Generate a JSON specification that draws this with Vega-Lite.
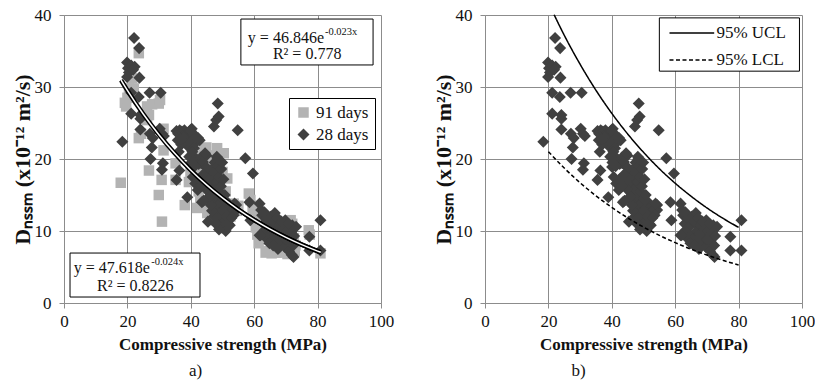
{
  "$schema": "https://vega.github.io/schema/vega-lite/v6.json",
  "background": "white",
  "padding": {"left": 11, "top": 6, "right": 5, "bottom": 2},
  "bounds": "flush",
  "spacing": 104,
  "config": {
    "font": "Liberation Serif",
    "view": {"stroke": null},
    "axis": {
      "labelFont": "Liberation Serif", "labelFontSize": 17, "labelColor": "#111", "labelFlush": false,
      "titleFont": "Liberation Serif", "titleFontSize": 17, "titleFontWeight": "bold", "titleColor": "#111",
      "gridColor": "#8c8c8c", "gridWidth": 1, "gridOpacity": 1,
      "domainColor": "#8c8c8c", "domainWidth": 1, "tickColor": "#8c8c8c", "tickSize": 5, "tickWidth": 1
    },
    "axisX": {"labelPadding": 5, "titlePadding": 7},
    "axisY": {"labelPadding": 8, "titlePadding": 0, "titleFontSize": 22},
    "title": {"font": "Liberation Serif", "fontSize": 17, "fontWeight": "normal", "color": "#111", "orient": "bottom", "offset": 11}
  },
  "datasets": {
    "pts": [
      {"strength": 17.9, "d": 16.7, "age": "91 days"}, {"strength": 19.2, "d": 27.8, "age": "91 days"}, {"strength": 19.6, "d": 27.3, "age": "91 days"},
      {"strength": 20.0, "d": 28.5, "age": "91 days"}, {"strength": 20.5, "d": 29.8, "age": "91 days"}, {"strength": 21.5, "d": 31.2, "age": "91 days"},
      {"strength": 22.0, "d": 29.8, "age": "91 days"}, {"strength": 23.6, "d": 34.7, "age": "91 days"}, {"strength": 23.6, "d": 22.9, "age": "91 days"},
      {"strength": 24.3, "d": 23.5, "age": "91 days"}, {"strength": 26.2, "d": 27.3, "age": "91 days"}, {"strength": 26.8, "d": 26.1, "age": "91 days"},
      {"strength": 26.2, "d": 25.4, "age": "91 days"}, {"strength": 27.8, "d": 27.6, "age": "91 days"}, {"strength": 26.8, "d": 18.4, "age": "91 days"},
      {"strength": 29.9, "d": 27.7, "age": "91 days"}, {"strength": 30.3, "d": 28.2, "age": "91 days"}, {"strength": 29.9, "d": 15.0, "age": "91 days"},
      {"strength": 30.8, "d": 17.1, "age": "91 days"}, {"strength": 30.9, "d": 11.3, "age": "91 days"}, {"strength": 31.4, "d": 21.2, "age": "91 days"},
      {"strength": 31.4, "d": 24.2, "age": "91 days"}, {"strength": 35.2, "d": 19.4, "age": "91 days"}, {"strength": 35.2, "d": 17.1, "age": "91 days"},
      {"strength": 38.1, "d": 13.6, "age": "91 days"}, {"strength": 39.4, "d": 16.8, "age": "91 days"}, {"strength": 39.9, "d": 18.0, "age": "91 days"},
      {"strength": 41.5, "d": 17.0, "age": "91 days"}, {"strength": 42.5, "d": 15.5, "age": "91 days"}, {"strength": 43.0, "d": 18.5, "age": "91 days"},
      {"strength": 43.5, "d": 20.2, "age": "91 days"}, {"strength": 44.0, "d": 21.5, "age": "91 days"}, {"strength": 44.9, "d": 21.6, "age": "91 days"},
      {"strength": 45.5, "d": 19.8, "age": "91 days"}, {"strength": 46.0, "d": 20.5, "age": "91 days"}, {"strength": 44.5, "d": 13.5, "age": "91 days"},
      {"strength": 45.2, "d": 12.5, "age": "91 days"}, {"strength": 45.8, "d": 16.0, "age": "91 days"}, {"strength": 46.5, "d": 11.5, "age": "91 days"},
      {"strength": 47.2, "d": 13.8, "age": "91 days"}, {"strength": 48.3, "d": 21.5, "age": "91 days"}, {"strength": 48.0, "d": 16.0, "age": "91 days"},
      {"strength": 49.0, "d": 14.0, "age": "91 days"}, {"strength": 50.4, "d": 20.8, "age": "91 days"}, {"strength": 50.0, "d": 18.2, "age": "91 days"},
      {"strength": 51.5, "d": 17.3, "age": "91 days"}, {"strength": 51.0, "d": 15.5, "age": "91 days"}, {"strength": 52.0, "d": 13.3, "age": "91 days"},
      {"strength": 52.5, "d": 12.0, "age": "91 days"}, {"strength": 53.5, "d": 13.8, "age": "91 days"}, {"strength": 54.5, "d": 12.8, "age": "91 days"},
      {"strength": 55.0, "d": 13.5, "age": "91 days"}, {"strength": 42.0, "d": 13.2, "age": "91 days"}, {"strength": 43.0, "d": 14.2, "age": "91 days"},
      {"strength": 58.3, "d": 15.2, "age": "91 days"}, {"strength": 58.8, "d": 14.3, "age": "91 days"}, {"strength": 59.5, "d": 12.8, "age": "91 days"},
      {"strength": 60.5, "d": 13.5, "age": "91 days"}, {"strength": 60.0, "d": 11.5, "age": "91 days"}, {"strength": 60.5, "d": 10.5, "age": "91 days"},
      {"strength": 61.0, "d": 9.5, "age": "91 days"}, {"strength": 61.4, "d": 8.3, "age": "91 days"}, {"strength": 62.5, "d": 8.8, "age": "91 days"},
      {"strength": 63.0, "d": 10.0, "age": "91 days"}, {"strength": 63.6, "d": 7.0, "age": "91 days"}, {"strength": 64.5, "d": 7.2, "age": "91 days"},
      {"strength": 65.0, "d": 9.8, "age": "91 days"}, {"strength": 65.5, "d": 6.9, "age": "91 days"}, {"strength": 66.0, "d": 10.5, "age": "91 days"},
      {"strength": 66.5, "d": 7.5, "age": "91 days"}, {"strength": 67.0, "d": 7.0, "age": "91 days"}, {"strength": 67.5, "d": 9.5, "age": "91 days"},
      {"strength": 68.0, "d": 7.0, "age": "91 days"}, {"strength": 68.5, "d": 8.5, "age": "91 days"}, {"strength": 69.5, "d": 7.3, "age": "91 days"},
      {"strength": 70.0, "d": 10.0, "age": "91 days"}, {"strength": 70.5, "d": 6.8, "age": "91 days"}, {"strength": 70.5, "d": 11.2, "age": "91 days"},
      {"strength": 71.5, "d": 11.5, "age": "91 days"}, {"strength": 72.0, "d": 11.0, "age": "91 days"}, {"strength": 72.5, "d": 9.0, "age": "91 days"},
      {"strength": 72.8, "d": 7.2, "age": "91 days"}, {"strength": 73.0, "d": 8.0, "age": "91 days"}, {"strength": 64.0, "d": 11.5, "age": "91 days"},
      {"strength": 61.8, "d": 11.0, "age": "91 days"}, {"strength": 77.2, "d": 10.1, "age": "91 days"}, {"strength": 77.5, "d": 9.5, "age": "91 days"},
      {"strength": 80.9, "d": 6.9, "age": "91 days"},
      {"strength": 18.4, "d": 22.4, "age": "28 days"}, {"strength": 19.9, "d": 33.4, "age": "28 days"}, {"strength": 20.2, "d": 32.6, "age": "28 days"},
      {"strength": 19.9, "d": 31.4, "age": "28 days"}, {"strength": 21.2, "d": 33.0, "age": "28 days"}, {"strength": 22.3, "d": 32.8, "age": "28 days"},
      {"strength": 20.5, "d": 32.0, "age": "28 days"}, {"strength": 21.8, "d": 32.4, "age": "28 days"},
      {"strength": 22.1, "d": 36.8, "age": "28 days"}, {"strength": 23.7, "d": 35.4, "age": "28 days"}, {"strength": 23.8, "d": 31.3, "age": "28 days"},
      {"strength": 23.6, "d": 28.6, "age": "28 days"}, {"strength": 21.2, "d": 29.2, "age": "28 days"}, {"strength": 21.2, "d": 26.3, "age": "28 days"},
      {"strength": 24.1, "d": 26.1, "age": "28 days"}, {"strength": 24.1, "d": 25.6, "age": "28 days"}, {"strength": 24.1, "d": 24.1, "age": "28 days"},
      {"strength": 27.0, "d": 29.2, "age": "28 days"}, {"strength": 30.5, "d": 29.2, "age": "28 days"}, {"strength": 27.1, "d": 23.5, "age": "28 days"},
      {"strength": 28.0, "d": 22.9, "age": "28 days"}, {"strength": 27.7, "d": 21.6, "age": "28 days"}, {"strength": 27.3, "d": 20.0, "age": "28 days"},
      {"strength": 30.2, "d": 24.2, "age": "28 days"}, {"strength": 30.9, "d": 23.5, "age": "28 days"}, {"strength": 31.5, "d": 23.2, "age": "28 days"},
      {"strength": 31.2, "d": 19.4, "age": "28 days"}, {"strength": 30.9, "d": 18.5, "age": "28 days"}, {"strength": 35.5, "d": 23.9, "age": "28 days"},
      {"strength": 35.9, "d": 22.6, "age": "28 days"}, {"strength": 35.5, "d": 17.1, "age": "28 days"}, {"strength": 36.4, "d": 18.4, "age": "28 days"},
      {"strength": 36.2, "d": 21.0, "age": "28 days"}, {"strength": 38.9, "d": 14.7, "age": "28 days"}, {"strength": 39.9, "d": 24.0, "age": "28 days"},
      {"strength": 40.1, "d": 20.5, "age": "28 days"}, {"strength": 40.1, "d": 18.9, "age": "28 days"}, {"strength": 40.6, "d": 17.5, "age": "28 days"},
      {"strength": 41.4, "d": 16.6, "age": "28 days"}, {"strength": 42.2, "d": 15.7, "age": "28 days"}, {"strength": 42.8, "d": 22.6, "age": "28 days"},
      {"strength": 43.3, "d": 19.4, "age": "28 days"}, {"strength": 43.5, "d": 14.0, "age": "28 days"}, {"strength": 45.4, "d": 11.3, "age": "28 days"},
      {"strength": 44.9, "d": 20.5, "age": "28 days"}, {"strength": 47.3, "d": 24.5, "age": "28 days"}, {"strength": 48.0, "d": 25.4, "age": "28 days"},
      {"strength": 48.5, "d": 27.7, "age": "28 days"}, {"strength": 48.8, "d": 25.9, "age": "28 days"}, {"strength": 54.8, "d": 24.0, "age": "28 days"},
      {"strength": 57.2, "d": 20.1, "age": "28 days"}, {"strength": 59.6, "d": 18.0, "age": "28 days"}, {"strength": 58.5, "d": 14.0, "age": "28 days"},
      {"strength": 58.8, "d": 11.5, "age": "28 days"}, {"strength": 61.7, "d": 13.8, "age": "28 days"}, {"strength": 62.2, "d": 12.9, "age": "28 days"},
      {"strength": 61.7, "d": 9.4, "age": "28 days"}, {"strength": 73.2, "d": 10.6, "age": "28 days"}, {"strength": 77.4, "d": 9.2, "age": "28 days"},
      {"strength": 77.4, "d": 7.3, "age": "28 days"}, {"strength": 80.9, "d": 11.5, "age": "28 days"}, {"strength": 80.9, "d": 7.3, "age": "28 days"},
      {"strength": 72.4, "d": 6.4, "age": "28 days"}, {"strength": 54.3, "d": 13.6, "age": "28 days"}, {"strength": 54.3, "d": 12.9, "age": "28 days"},
      {"strength": 36.0, "d": 23.5, "age": "28 days"}, {"strength": 36.5, "d": 24.0, "age": "28 days"}, {"strength": 37.2, "d": 23.8, "age": "28 days"},
      {"strength": 37.8, "d": 23.2, "age": "28 days"}, {"strength": 38.0, "d": 24.0, "age": "28 days"}, {"strength": 38.6, "d": 23.6, "age": "28 days"},
      {"strength": 39.2, "d": 22.8, "age": "28 days"}, {"strength": 39.8, "d": 23.9, "age": "28 days"}, {"strength": 40.3, "d": 24.2, "age": "28 days"},
      {"strength": 40.8, "d": 23.5, "age": "28 days"}, {"strength": 41.3, "d": 23.0, "age": "28 days"}, {"strength": 41.8, "d": 22.4, "age": "28 days"},
      {"strength": 42.3, "d": 22.9, "age": "28 days"}, {"strength": 39.0, "d": 21.8, "age": "28 days"}, {"strength": 38.3, "d": 22.3, "age": "28 days"},
      {"strength": 37.0, "d": 22.0, "age": "28 days"}, {"strength": 40.0, "d": 22.2, "age": "28 days"}, {"strength": 41.0, "d": 21.5, "age": "28 days"},
      {"strength": 40.5, "d": 21.0, "age": "28 days"}, {"strength": 39.5, "d": 20.3, "age": "28 days"}, {"strength": 41.8, "d": 20.0, "age": "28 days"},
      {"strength": 42.5, "d": 19.3, "age": "28 days"}, {"strength": 43.2, "d": 20.2, "age": "28 days"}, {"strength": 43.8, "d": 19.6, "age": "28 days"},
      {"strength": 44.5, "d": 20.8, "age": "28 days"}, {"strength": 41.2, "d": 19.0, "age": "28 days"}, {"strength": 40.2, "d": 19.5, "age": "28 days"},
      {"strength": 37.5, "d": 23.0, "age": "28 days"}, {"strength": 36.8, "d": 22.8, "age": "28 days"},
      {"strength": 45.5, "d": 17.8, "age": "28 days"}, {"strength": 46.0, "d": 16.5, "age": "28 days"}, {"strength": 46.2, "d": 15.2, "age": "28 days"},
      {"strength": 46.5, "d": 18.5, "age": "28 days"}, {"strength": 46.8, "d": 14.0, "age": "28 days"}, {"strength": 47.0, "d": 17.0, "age": "28 days"},
      {"strength": 47.2, "d": 15.8, "age": "28 days"}, {"strength": 47.5, "d": 19.5, "age": "28 days"}, {"strength": 47.6, "d": 13.2, "age": "28 days"},
      {"strength": 47.8, "d": 18.0, "age": "28 days"}, {"strength": 48.0, "d": 16.8, "age": "28 days"}, {"strength": 48.2, "d": 20.3, "age": "28 days"},
      {"strength": 48.3, "d": 14.8, "age": "28 days"}, {"strength": 48.5, "d": 12.5, "age": "28 days"}, {"strength": 48.6, "d": 19.0, "age": "28 days"},
      {"strength": 48.8, "d": 17.5, "age": "28 days"}, {"strength": 49.0, "d": 15.5, "age": "28 days"}, {"strength": 49.1, "d": 11.8, "age": "28 days"},
      {"strength": 49.3, "d": 13.8, "age": "28 days"}, {"strength": 49.5, "d": 16.2, "age": "28 days"}, {"strength": 49.6, "d": 18.6, "age": "28 days"},
      {"strength": 49.8, "d": 10.5, "age": "28 days"}, {"strength": 50.0, "d": 12.8, "age": "28 days"}, {"strength": 50.2, "d": 14.5, "age": "28 days"},
      {"strength": 50.3, "d": 17.2, "age": "28 days"}, {"strength": 50.5, "d": 11.2, "age": "28 days"}, {"strength": 50.7, "d": 15.0, "age": "28 days"},
      {"strength": 50.9, "d": 13.3, "age": "28 days"}, {"strength": 51.0, "d": 10.0, "age": "28 days"}, {"strength": 51.2, "d": 12.0, "age": "28 days"},
      {"strength": 51.5, "d": 14.0, "age": "28 days"}, {"strength": 51.8, "d": 11.0, "age": "28 days"}, {"strength": 52.0, "d": 12.8, "age": "28 days"},
      {"strength": 52.3, "d": 10.8, "age": "28 days"}, {"strength": 52.5, "d": 13.5, "age": "28 days"}, {"strength": 47.3, "d": 12.0, "age": "28 days"},
      {"strength": 46.7, "d": 12.8, "age": "28 days"}, {"strength": 48.9, "d": 10.2, "age": "28 days"}, {"strength": 49.9, "d": 19.5, "age": "28 days"},
      {"strength": 48.4, "d": 20.0, "age": "28 days"}, {"strength": 47.9, "d": 11.0, "age": "28 days"}, {"strength": 46.3, "d": 13.6, "age": "28 days"},
      {"strength": 45.8, "d": 14.8, "age": "28 days"}, {"strength": 44.8, "d": 15.8, "age": "28 days"}, {"strength": 44.3, "d": 17.0, "age": "28 days"},
      {"strength": 45.0, "d": 18.8, "age": "28 days"}, {"strength": 43.8, "d": 17.8, "age": "28 days"}, {"strength": 43.2, "d": 16.3, "age": "28 days"},
      {"strength": 42.5, "d": 17.2, "age": "28 days"}, {"strength": 44.0, "d": 14.2, "age": "28 days"}, {"strength": 53.2, "d": 13.0, "age": "28 days"},
      {"strength": 53.8, "d": 13.8, "age": "28 days"}, {"strength": 53.5, "d": 12.2, "age": "28 days"}, {"strength": 52.8, "d": 11.8, "age": "28 days"},
      {"strength": 62.5, "d": 12.2, "age": "28 days"}, {"strength": 63.0, "d": 11.0, "age": "28 days"}, {"strength": 63.5, "d": 10.2, "age": "28 days"},
      {"strength": 64.0, "d": 11.8, "age": "28 days"}, {"strength": 64.5, "d": 9.5, "age": "28 days"}, {"strength": 65.0, "d": 10.8, "age": "28 days"},
      {"strength": 65.3, "d": 12.0, "age": "28 days"}, {"strength": 65.8, "d": 9.0, "age": "28 days"}, {"strength": 66.2, "d": 11.2, "age": "28 days"},
      {"strength": 66.5, "d": 12.5, "age": "28 days"}, {"strength": 66.8, "d": 10.0, "age": "28 days"}, {"strength": 67.0, "d": 8.8, "age": "28 days"},
      {"strength": 67.3, "d": 11.8, "age": "28 days"}, {"strength": 67.8, "d": 9.6, "age": "28 days"}, {"strength": 68.0, "d": 10.8, "age": "28 days"},
      {"strength": 68.3, "d": 8.2, "age": "28 days"}, {"strength": 68.6, "d": 11.3, "age": "28 days"}, {"strength": 69.0, "d": 9.2, "age": "28 days"},
      {"strength": 69.3, "d": 10.3, "age": "28 days"}, {"strength": 69.6, "d": 7.8, "age": "28 days"}, {"strength": 70.0, "d": 8.8, "age": "28 days"},
      {"strength": 70.3, "d": 10.0, "age": "28 days"}, {"strength": 70.6, "d": 9.0, "age": "28 days"}, {"strength": 71.0, "d": 7.2, "age": "28 days"},
      {"strength": 71.3, "d": 8.4, "age": "28 days"}, {"strength": 71.6, "d": 9.8, "age": "28 days"}, {"strength": 72.0, "d": 10.8, "age": "28 days"},
      {"strength": 72.3, "d": 8.0, "age": "28 days"}, {"strength": 72.6, "d": 9.3, "age": "28 days"}, {"strength": 71.8, "d": 6.7, "age": "28 days"},
      {"strength": 63.8, "d": 9.0, "age": "28 days"}, {"strength": 64.8, "d": 8.3, "age": "28 days"}, {"strength": 66.0, "d": 8.0, "age": "28 days"},
      {"strength": 67.5, "d": 7.5, "age": "28 days"}, {"strength": 62.0, "d": 9.4, "age": "28 days"}, {"strength": 63.2, "d": 12.6, "age": "28 days"},
      {"strength": 69.8, "d": 11.5, "age": "28 days"}, {"strength": 70.8, "d": 11.0, "age": "28 days"}
    ],
    "trend": [
      {"strength": 18, "d": 30.97, "fit": "28 days"}, {"strength": 20, "d": 29.57, "fit": "28 days"}, {"strength": 25, "d": 26.36, "fit": "28 days"},
      {"strength": 30, "d": 23.50, "fit": "28 days"}, {"strength": 35, "d": 20.94, "fit": "28 days"}, {"strength": 40, "d": 18.67, "fit": "28 days"},
      {"strength": 45, "d": 16.64, "fit": "28 days"}, {"strength": 50, "d": 14.83, "fit": "28 days"}, {"strength": 55, "d": 13.22, "fit": "28 days"},
      {"strength": 60, "d": 11.79, "fit": "28 days"}, {"strength": 65, "d": 10.51, "fit": "28 days"}, {"strength": 70, "d": 9.36, "fit": "28 days"},
      {"strength": 75, "d": 8.35, "fit": "28 days"}, {"strength": 80, "d": 7.44, "fit": "28 days"}, {"strength": 81, "d": 7.27, "fit": "28 days"},
      {"strength": 18, "d": 30.91, "fit": "91 days"}, {"strength": 20, "d": 29.47, "fit": "91 days"}, {"strength": 25, "d": 26.13, "fit": "91 days"},
      {"strength": 30, "d": 23.18, "fit": "91 days"}, {"strength": 35, "d": 20.56, "fit": "91 days"}, {"strength": 40, "d": 18.23, "fit": "91 days"},
      {"strength": 45, "d": 16.17, "fit": "91 days"}, {"strength": 50, "d": 14.34, "fit": "91 days"}, {"strength": 55, "d": 12.72, "fit": "91 days"},
      {"strength": 60, "d": 11.28, "fit": "91 days"}, {"strength": 65, "d": 10.01, "fit": "91 days"}, {"strength": 70, "d": 8.87, "fit": "91 days"},
      {"strength": 75, "d": 7.87, "fit": "91 days"}, {"strength": 80, "d": 6.98, "fit": "91 days"}, {"strength": 81, "d": 6.81, "fit": "91 days"}
    ],
    "trendmid": [
      {"strength": 18, "d": 30.94}, {"strength": 20, "d": 29.52}, {"strength": 25, "d": 26.25}, {"strength": 30, "d": 23.34},
      {"strength": 35, "d": 20.75}, {"strength": 40, "d": 18.45}, {"strength": 45, "d": 16.41}, {"strength": 50, "d": 14.59},
      {"strength": 55, "d": 12.97}, {"strength": 60, "d": 11.54}, {"strength": 65, "d": 10.26}, {"strength": 70, "d": 9.12},
      {"strength": 75, "d": 8.11}, {"strength": 80, "d": 7.21}, {"strength": 81, "d": 7.04}
    ],
    "limits": [
      {"strength": 21.8, "d": 40.04, "limit": "95% UCL"}, {"strength": 25, "d": 37.19, "limit": "95% UCL"}, {"strength": 30, "d": 33.16, "limit": "95% UCL"},
      {"strength": 35, "d": 29.55, "limit": "95% UCL"}, {"strength": 40, "d": 26.34, "limit": "95% UCL"}, {"strength": 45, "d": 23.48, "limit": "95% UCL"},
      {"strength": 50, "d": 20.93, "limit": "95% UCL"}, {"strength": 55, "d": 18.65, "limit": "95% UCL"}, {"strength": 60, "d": 16.63, "limit": "95% UCL"},
      {"strength": 65, "d": 14.83, "limit": "95% UCL"}, {"strength": 70, "d": 13.21, "limit": "95% UCL"}, {"strength": 75, "d": 11.78, "limit": "95% UCL"},
      {"strength": 80, "d": 10.50, "limit": "95% UCL"},
      {"strength": 20, "d": 21.02, "limit": "95% LCL"}, {"strength": 25, "d": 18.74, "limit": "95% LCL"}, {"strength": 30, "d": 16.70, "limit": "95% LCL"},
      {"strength": 35, "d": 14.89, "limit": "95% LCL"}, {"strength": 40, "d": 13.27, "limit": "95% LCL"}, {"strength": 45, "d": 11.83, "limit": "95% LCL"},
      {"strength": 50, "d": 10.54, "limit": "95% LCL"}, {"strength": 55, "d": 9.40, "limit": "95% LCL"}, {"strength": 60, "d": 8.38, "limit": "95% LCL"},
      {"strength": 65, "d": 7.47, "limit": "95% LCL"}, {"strength": 70, "d": 6.66, "limit": "95% LCL"}, {"strength": 75, "d": 5.93, "limit": "95% LCL"},
      {"strength": 80, "d": 5.29, "limit": "95% LCL"}
    ]
  },
  "hconcat": [
    {
      "width": 317,
      "height": 288,
      "title": {"text": "a)", "dx": -27},
      "layer": [
        {
          "data": {"name": "pts"},
          "mark": {"type": "point", "filled": true, "opacity": 1, "strokeWidth": 0},
          "encoding": {
            "x": {"field": "strength", "type": "quantitative", "scale": {"domain": [0, 100], "nice": false},
                  "axis": {"values": [0, 20, 40, 60, 80, 100]}, "title": "Compressive strength (MPa)"},
            "y": {"field": "d", "type": "quantitative", "scale": {"domain": [0, 40], "nice": false},
                  "axis": {"values": [0, 5, 10, 15, 20, 25, 30, 35, 40]}, "title": "Dₙₛₛₘ (x10⁻¹² m²/s)"},
            "color": {"field": "age", "type": "nominal",
                      "scale": {"domain": ["91 days", "28 days"], "range": ["#b3b3b3", "#404040"]},
                      "legend": {"title": null, "orient": "none", "legendX": 225, "legendY": 83, "padding": 6,
                                 "strokeColor": "black", "fillColor": "white", "labelFont": "Liberation Serif",
                                 "labelFontSize": 17, "labelColor": "#111", "rowPadding": 4, "labelOffset": 4,
                                 "symbolSize": 120, "symbolStrokeWidth": 0, "cornerRadius": 0}},
            "shape": {"field": "age", "type": "nominal",
                      "scale": {"domain": ["91 days", "28 days"], "range": ["square", "diamond"]}},
            "size": {"field": "age", "type": "ordinal",
                     "scale": {"domain": ["91 days", "28 days"], "range": [110, 145]}, "legend": null}
          }
        },
        {
          "data": {"name": "trendmid"},
          "mark": {"type": "line", "color": "black", "strokeWidth": 4.5, "interpolate": "monotone"},
          "encoding": {
            "x": {"field": "strength", "type": "quantitative", "title": "Compressive strength (MPa)"},
            "y": {"field": "d", "type": "quantitative", "title": "Dₙₛₛₘ (x10⁻¹² m²/s)"}
          }
        },
        {
          "data": {"name": "trend"},
          "mark": {"type": "line", "color": "black", "strokeWidth": 1.4, "interpolate": "monotone"},
          "encoding": {
            "x": {"field": "strength", "type": "quantitative", "title": "Compressive strength (MPa)"},
            "y": {"field": "d", "type": "quantitative", "title": "Dₙₛₛₘ (x10⁻¹² m²/s)"},
            "detail": {"field": "fit", "type": "nominal"}
          }
        },
        {
          "data": {"name": "trendmid"},
          "mark": {"type": "line", "color": "white", "strokeWidth": 1.5, "interpolate": "monotone"},
          "encoding": {
            "x": {"field": "strength", "type": "quantitative", "title": "Compressive strength (MPa)"},
            "y": {"field": "d", "type": "quantitative", "title": "Dₙₛₛₘ (x10⁻¹² m²/s)"}
          }
        },
        {
          "data": {"values": [{"label": "28 days fit"}]},
          "mark": {"type": "rect", "fill": "white", "stroke": "black", "strokeWidth": 1},
          "encoding": {
            "x": {"datum": 55.8, "type": "quantitative", "title": "Compressive strength (MPa)"}, "x2": {"datum": 97.5},
            "y": {"datum": 39.44, "type": "quantitative", "title": "Dₙₛₛₘ (x10⁻¹² m²/s)"}, "y2": {"datum": 33.06}
          }
        },
        {
          "data": {"values": [{"label": "y = 46.846e"}]},
          "mark": {"type": "text", "align": "left", "baseline": "alphabetic", "fontSize": 16, "font": "Liberation Serif", "color": "#111"},
          "encoding": {
            "x": {"datum": 58.0, "type": "quantitative", "title": "Compressive strength (MPa)"},
            "y": {"datum": 36.15, "type": "quantitative", "title": "Dₙₛₛₘ (x10⁻¹² m²/s)"},
            "text": {"field": "label"}
          }
        },
        {
          "data": {"values": [{"label": "-0.023x"}]},
          "mark": {"type": "text", "align": "left", "baseline": "alphabetic", "fontSize": 10.5, "font": "Liberation Serif", "color": "#111"},
          "encoding": {
            "x": {"datum": 82.3, "type": "quantitative", "title": "Compressive strength (MPa)"},
            "y": {"datum": 37.2, "type": "quantitative", "title": "Dₙₛₛₘ (x10⁻¹² m²/s)"},
            "text": {"field": "label"}
          }
        },
        {
          "data": {"values": [{"label": "R² = 0.778"}]},
          "mark": {"type": "text", "align": "center", "baseline": "alphabetic", "fontSize": 16, "font": "Liberation Serif", "color": "#111"},
          "encoding": {
            "x": {"datum": 76.7, "type": "quantitative", "title": "Compressive strength (MPa)"},
            "y": {"datum": 33.85, "type": "quantitative", "title": "Dₙₛₛₘ (x10⁻¹² m²/s)"},
            "text": {"field": "label"}
          }
        },
        {
          "data": {"values": [{"label": "91 days fit"}]},
          "mark": {"type": "rect", "fill": "white", "stroke": "black", "strokeWidth": 1},
          "encoding": {
            "x": {"datum": 1.9, "type": "quantitative", "title": "Compressive strength (MPa)"}, "x2": {"datum": 42.9},
            "y": {"datum": 6.94, "type": "quantitative", "title": "Dₙₛₛₘ (x10⁻¹² m²/s)"}, "y2": {"datum": 0.83}
          }
        },
        {
          "data": {"values": [{"label": "y = 47.618e"}]},
          "mark": {"type": "text", "align": "left", "baseline": "alphabetic", "fontSize": 16, "font": "Liberation Serif", "color": "#111"},
          "encoding": {
            "x": {"datum": 3.05, "type": "quantitative", "title": "Compressive strength (MPa)"},
            "y": {"datum": 4.21, "type": "quantitative", "title": "Dₙₛₛₘ (x10⁻¹² m²/s)"},
            "text": {"field": "label"}
          }
        },
        {
          "data": {"values": [{"label": "-0.024x"}]},
          "mark": {"type": "text", "align": "left", "baseline": "alphabetic", "fontSize": 10.5, "font": "Liberation Serif", "color": "#111"},
          "encoding": {
            "x": {"datum": 27.5, "type": "quantitative", "title": "Compressive strength (MPa)"},
            "y": {"datum": 5.28, "type": "quantitative", "title": "Dₙₛₛₘ (x10⁻¹² m²/s)"},
            "text": {"field": "label"}
          }
        },
        {
          "data": {"values": [{"label": "R² = 0.8226"}]},
          "mark": {"type": "text", "align": "center", "baseline": "alphabetic", "fontSize": 16, "font": "Liberation Serif", "color": "#111"},
          "encoding": {
            "x": {"datum": 22.5, "type": "quantitative", "title": "Compressive strength (MPa)"},
            "y": {"datum": 1.71, "type": "quantitative", "title": "Dₙₛₛₘ (x10⁻¹² m²/s)"},
            "text": {"field": "label"}
          }
        }
      ]
    },
    {
      "width": 317,
      "height": 288,
      "title": {"text": "b)", "dx": -65},
      "layer": [
        {
          "data": {"name": "pts"},
          "transform": [{"filter": "datum.age === '28 days'"}],
          "mark": {"type": "point", "filled": true, "opacity": 1, "strokeWidth": 0, "shape": "diamond", "size": 145, "color": "#404040"},
          "encoding": {
            "x": {"field": "strength", "type": "quantitative", "scale": {"domain": [0, 100], "nice": false},
                  "axis": {"values": [0, 20, 40, 60, 80, 100]}, "title": "Compressive strength (MPa)"},
            "y": {"field": "d", "type": "quantitative", "scale": {"domain": [0, 40], "nice": false},
                  "axis": {"values": [0, 5, 10, 15, 20, 25, 30, 35, 40]}, "title": "Dₙₛₛₘ (x10⁻¹² m²/s)"}
          }
        },
        {
          "data": {"name": "limits"},
          "mark": {"type": "line", "color": "black", "strokeWidth": 1.5, "interpolate": "monotone"},
          "encoding": {
            "x": {"field": "strength", "type": "quantitative", "title": "Compressive strength (MPa)"},
            "y": {"field": "d", "type": "quantitative", "title": "Dₙₛₛₘ (x10⁻¹² m²/s)"},
            "strokeDash": {"field": "limit", "type": "nominal",
                           "scale": {"domain": ["95% UCL", "95% LCL"], "range": [[1, 0], [4, 2.5]]}, "legend": null}
          }
        },
        {
          "data": {"values": [{"label": "legend"}]},
          "mark": {"type": "rect", "fill": "white", "stroke": "black", "strokeWidth": 1},
          "encoding": {
            "x": {"datum": 55.0, "type": "quantitative", "title": "Compressive strength (MPa)"}, "x2": {"datum": 99.2},
            "y": {"datum": 39.6, "type": "quantitative", "title": "Dₙₛₛₘ (x10⁻¹² m²/s)"}, "y2": {"datum": 32.2}
          }
        },
        {
          "data": {"values": [{"label": "95% UCL"}]},
          "mark": {"type": "rule", "color": "black", "strokeWidth": 1.5},
          "encoding": {
            "x": {"datum": 58.2, "type": "quantitative", "title": "Compressive strength (MPa)"}, "x2": {"datum": 72.3},
            "y": {"datum": 37.5, "type": "quantitative", "title": "Dₙₛₛₘ (x10⁻¹² m²/s)"}
          }
        },
        {
          "data": {"values": [{"label": "95% LCL"}]},
          "mark": {"type": "rule", "color": "black", "strokeWidth": 1.5, "strokeDash": [4, 2.5]},
          "encoding": {
            "x": {"datum": 58.2, "type": "quantitative", "title": "Compressive strength (MPa)"}, "x2": {"datum": 72.3},
            "y": {"datum": 33.75, "type": "quantitative", "title": "Dₙₛₛₘ (x10⁻¹² m²/s)"}
          }
        },
        {
          "data": {"values": [{"label": "95% UCL"}]},
          "mark": {"type": "text", "align": "left", "baseline": "middle", "fontSize": 17, "font": "Liberation Serif", "color": "#111"},
          "encoding": {
            "x": {"datum": 73.0, "type": "quantitative", "title": "Compressive strength (MPa)"},
            "y": {"datum": 37.5, "type": "quantitative", "title": "Dₙₛₛₘ (x10⁻¹² m²/s)"},
            "text": {"field": "label"}
          }
        },
        {
          "data": {"values": [{"label": "95% LCL"}]},
          "mark": {"type": "text", "align": "left", "baseline": "middle", "fontSize": 17, "font": "Liberation Serif", "color": "#111"},
          "encoding": {
            "x": {"datum": 73.0, "type": "quantitative", "title": "Compressive strength (MPa)"},
            "y": {"datum": 33.75, "type": "quantitative", "title": "Dₙₛₛₘ (x10⁻¹² m²/s)"},
            "text": {"field": "label"}
          }
        }
      ]
    }
  ]
}
